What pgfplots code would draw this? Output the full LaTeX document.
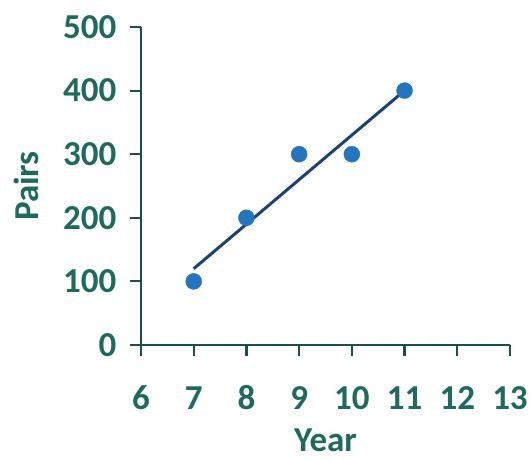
\documentclass[border=0pt]{standalone}
\usepackage{fontspec}
\setmainfont{Carlito}
\usepackage{pgfplots}
\pgfplotsset{compat=1.18}
\definecolor{txt}{HTML}{1E6B5E}
\definecolor{axl}{HTML}{1B4F4A}
\definecolor{pt}{HTML}{2474C0}
\definecolor{ln}{HTML}{1C4275}
\begin{document}
\begin{tikzpicture}
\path[use as bounding box] (-141pt,-115pt) rectangle (390pt,345pt);
\begin{axis}[
  at={(0pt,0pt)}, anchor=south west,
  scale only axis, width=369pt, height=318pt,
  xmin=6, xmax=13, ymin=0, ymax=500,
  axis x line*=bottom, axis y line*=left,
  axis line style={draw=axl, line width=2.6pt, -},
  xtick={6,...,13}, ytick={0,100,...,500},
  tick style={draw=axl, line width=2.2pt},
  tick align=outside, major tick length=11pt,
  /pgf/number format/assume math mode=true,
  ticklabel style={font=\fontsize{35}{38}\selectfont\bfseries, text=txt},
  xticklabel style={text height=0.62em, text depth=0pt, yshift=-44pt},
  yticklabel style={xshift=-10pt},
  xlabel={Year}, ylabel={Pairs},
  label style={font=\fontsize{35}{38}\selectfont\bfseries, text=txt},
  xlabel style={inner sep=1pt, text depth=0pt, yshift=-15pt},
  ylabel style={yshift=18pt},
  clip=false,
]
\addplot[ln, line width=3pt, no marks] coordinates {(7,120) (11,400)};
\addplot[only marks, mark=*, mark size=8pt, mark options={fill=pt, draw=pt}] coordinates {
(7,100) (8,200) (9,300) (10,300) (11,400)};
\end{axis}
\end{tikzpicture}
\end{document}
